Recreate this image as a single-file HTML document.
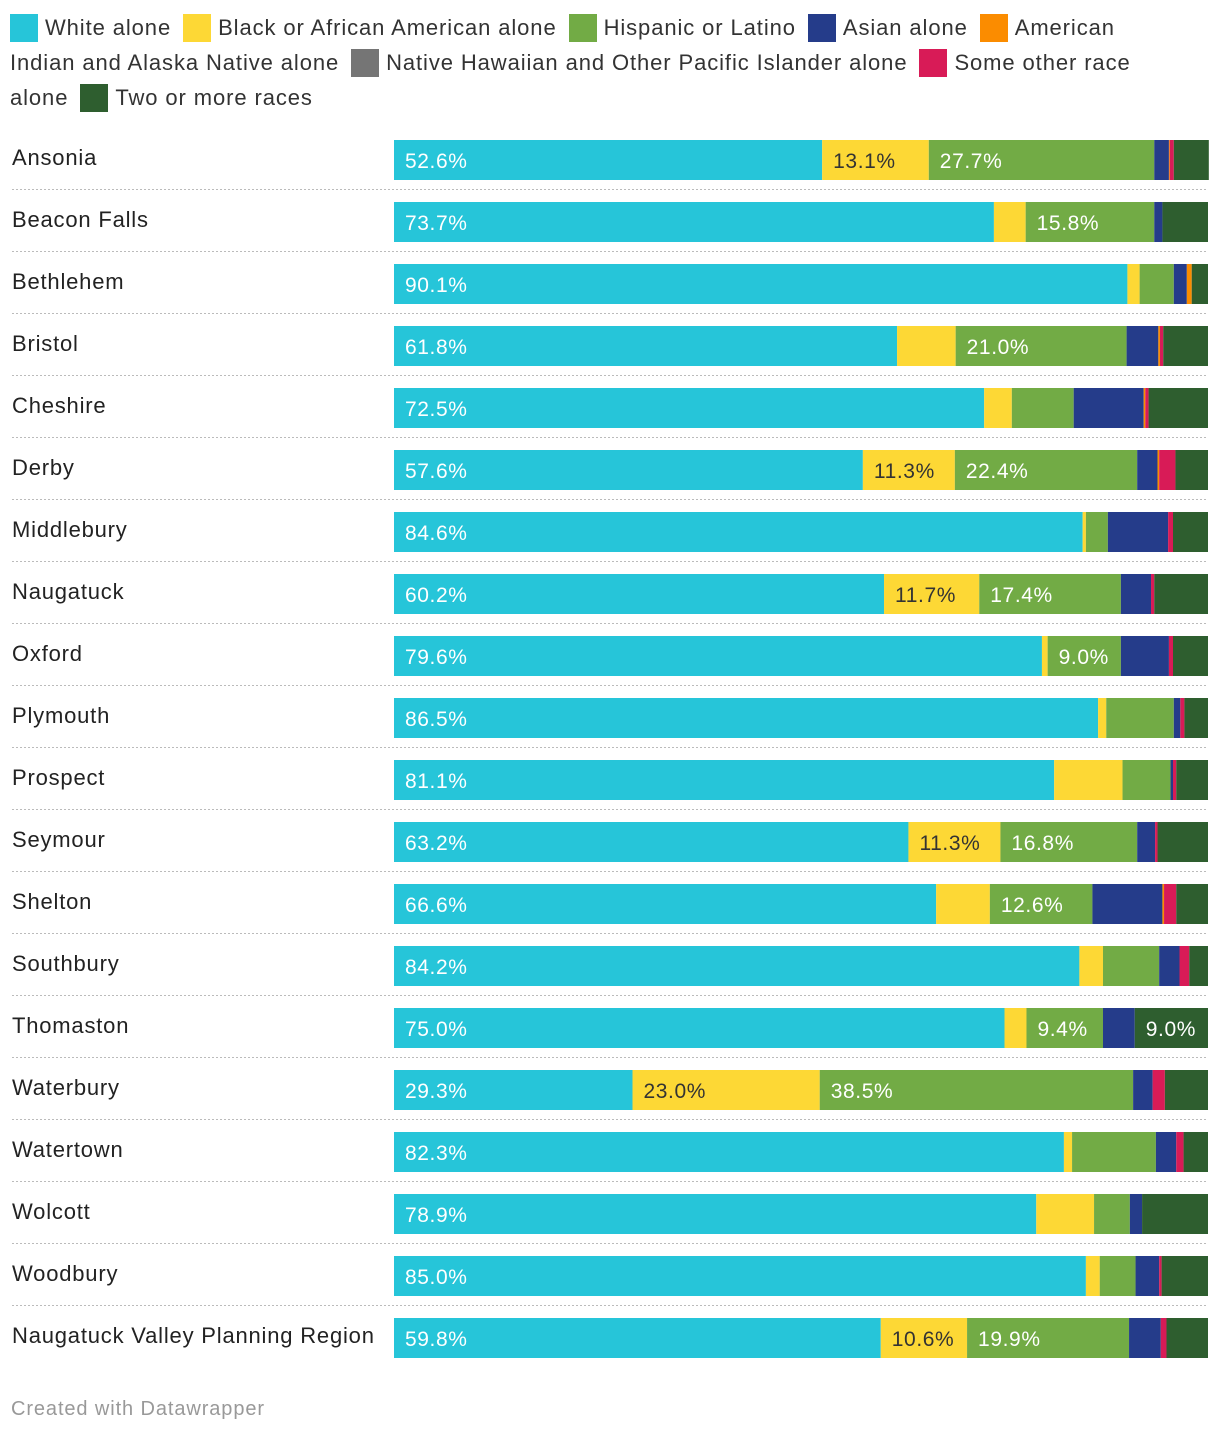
<!DOCTYPE html>
<html><head><meta charset="utf-8">
<style>
body{margin:0;width:1220px;height:1434px;background:#fff;font-family:"Liberation Sans",Roboto,sans-serif;color:#222;position:relative;overflow:hidden}
#legend{position:absolute;left:10px;top:10px;width:1210px;font-size:22px;line-height:35px;color:#333;letter-spacing:0.9px}
.ln{white-space:nowrap;height:35px}
.ent{margin-left:12px}
.sw{display:inline-block;width:28px;height:28px;vertical-align:-7px;margin-right:7px}
#chart{position:absolute;left:0;top:0}
#footer{position:absolute;left:11px;top:1398px;font-size:20px;color:#999;letter-spacing:0.9px}
</style></head><body>
<div id="legend">
<div class="ln"><span><span class="sw" style="background:#26c5d9"></span>White alone</span><span class="ent"><span class="sw" style="background:#fdd835"></span>Black or African American alone</span><span class="ent"><span class="sw" style="background:#72ab45"></span>Hispanic or Latino</span><span class="ent"><span class="sw" style="background:#253c8a"></span>Asian alone</span><span class="ent"><span class="sw" style="background:#fb8c00"></span>American</span></div>
<div class="ln">Indian and Alaska Native alone<span class="ent"><span class="sw" style="background:#757575"></span>Native Hawaiian and Other Pacific Islander alone</span><span class="ent"><span class="sw" style="background:#d81b57"></span>Some other race</span></div>
<div class="ln">alone<span class="ent"><span class="sw" style="background:#2e5e2f"></span>Two or more races</span></div>
</div>
<svg id="chart" width="1220" height="1434"></svg>
<div id="footer">Created with Datawrapper</div>
<script>
const colors=["#26c5d9","#fdd835","#72ab45","#253c8a","#fb8c00","#757575","#d81b57","#2e5e2f"];
const categories=["Ansonia","Beacon Falls","Bethlehem","Bristol","Cheshire","Derby","Middlebury","Naugatuck","Oxford","Plymouth","Prospect","Seymour","Shelton","Southbury","Thomaston","Waterbury","Watertown","Wolcott","Woodbury","Naugatuck Valley Planning Region"];
const white=[52.6,73.7,90.1,61.8,72.5,57.6,84.6,60.2,79.6,86.5,81.1,63.2,66.6,84.2,75.0,29.3,82.3,78.9,85.0,59.8];
const black=[13.1,3.9,1.5,7.2,3.4,11.3,0.4,11.7,0.7,1.0,8.4,11.3,6.6,2.9,2.7,23.0,1.0,7.1,1.7,10.6];
const hisp=[27.7,15.8,4.2,21.0,7.6,22.4,2.7,17.4,9.0,8.3,5.9,16.8,12.6,6.9,9.4,38.5,10.3,4.4,4.4,19.9];
const asian=[1.8,1.0,1.6,3.9,8.6,2.5,7.4,3.7,5.9,0.8,0.3,2.2,8.6,2.5,3.9,2.4,2.5,1.5,2.9,3.9];
const amind=[0.1,0,0.6,0.2,0.2,0.2,0,0,0,0,0,0,0.2,0,0,0,0,0,0,0];
const nhpi=[0,0,0,0,0,0,0,0,0,0,0,0,0,0,0,0,0,0,0,0];
const other=[0.5,0,0,0.4,0.4,2.0,0.6,0.4,0.5,0.5,0.4,0.3,1.5,1.2,0,1.5,0.9,0,0.3,0.7];
const two=[4.3,5.6,2.0,5.5,7.3,4.0,4.3,6.6,4.3,2.9,3.9,6.2,3.9,2.3,9.0,5.3,3.0,8.1,5.7,5.1];
const hiddenHispanicLabels=["Watertown"];
const values=[white,black,hisp,asian,amind,nhpi,other,two];
const keys=["white","black","hispanic","asian","american-indian","pacific-islander","other-race","two-or-more"];

const NS="http://www.w3.org/2000/svg";
const svg=document.getElementById('chart');
const x0=394,W=814,top0=140,step=62,bh=40;
const xs=v=>v/100*W;
const yRow=i=>top0+i*step;
function el(t,a){const e=document.createElementNS(NS,t);for(const k in a)e.setAttribute(k,a[k]);svg.appendChild(e);return e;}
categories.forEach((c,i)=>{
  const y=yRow(i);
  if(i>0){const ln=el('line',{x1:12,x2:1208,y1:y-12.5,y2:y-12.5,stroke:'#bbb','stroke-width':1,'stroke-dasharray':'2,2'});
    
    }
  const t=el('text',{x:12,y:y+25,'font-size':22,fill:'#222','letter-spacing':'0.8'});
  t.textContent=c;
  
  
  let acc=0;
  values.forEach((arr,s)=>{
    const v=arr[i];
    if(v>0){
      const r=el('rect',{x:x0+xs(acc),y:y,width:xs(v),height:bh,fill:colors[s]});
      
      
      const hide=(s===2 && hiddenHispanicLabels.indexOf(c)>=0);
      if(v>=9 && !hide){
        const lt=el('text',{x:x0+xs(acc)+11,y:y+28,'font-size':21,fill:s===1?'#333':'#fff','letter-spacing':'0.6'});
        lt.textContent=v.toFixed(1)+'%';
        
        
      }
    }
    acc+=v;
  });
});
</script>
</body></html>
